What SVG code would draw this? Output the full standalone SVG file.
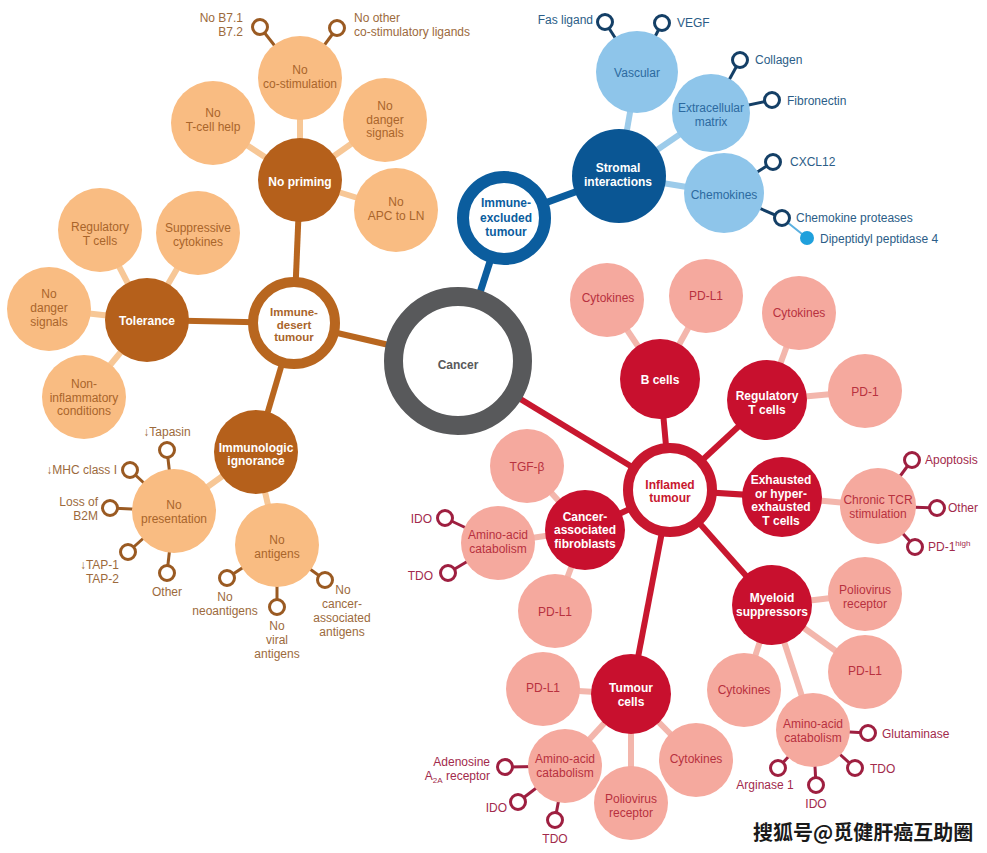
<svg xmlns="http://www.w3.org/2000/svg" width="987" height="853" viewBox="0 0 987 853">
<style>
text{font-family:"Liberation Sans",Arial,sans-serif;font-size:12px}
.m{text-anchor:middle}
.e{text-anchor:end}
.b{font-weight:bold}
.w{fill:#fff}
.ot{fill:#a9652b}
.bt{fill:#2c6aa0}
.rt{fill:#b8313f}
.os{fill:#9c6a3c}
.bs{fill:#2b5d87}
.rs{fill:#a22a4c}
.oD{fill:#b5601b}
.oL{fill:#f9bc82}
.bD{fill:#0a5694}
.bL{fill:#8ec5ea}
.rD{fill:#c8102e}
.rL{fill:#f5a99e}
.stub circle{fill:#fff;stroke-width:3}
.lo{stroke:#b8661f;stroke-width:6}
.llo{stroke:#f7c796;stroke-width:6}
.so{stroke:#9a5a22;stroke-width:3}
.lb{stroke:#0b5d9e;stroke-width:7}
.llb{stroke:#9ccbea;stroke-width:6}
.sb{stroke:#143f66;stroke-width:3}
.lr{stroke:#c8172f;stroke-width:6}
.llr{stroke:#f3b6ac;stroke-width:6}
.sr{stroke:#9e1f40;stroke-width:3}
.wm{font-family:"Noto Sans CJK SC","Noto Sans CJK JP",sans-serif;font-size:20px;font-weight:bold;fill:#1a1a1a}
.sm{font-size:11.5px}
</style>
<rect width="987" height="853" fill="#fff"/>
<g id="connectors" fill="none">
<line class="lo" x1="458" y1="361" x2="294" y2="323"/>
<line class="lb" x1="458" y1="361" x2="504" y2="218"/>
<line class="lr" x1="458" y1="361" x2="670" y2="490"/>
<line class="lo" x1="294" y1="323" x2="300" y2="180"/>
<line class="lo" x1="294" y1="323" x2="147" y2="320"/>
<line class="lo" x1="294" y1="323" x2="256" y2="452"/>
<line class="lb" x1="504" y1="218" x2="619" y2="176"/>
<line class="lr" x1="670" y1="490" x2="660" y2="379"/>
<line class="lr" x1="670" y1="490" x2="767" y2="400"/>
<line class="lr" x1="670" y1="490" x2="782" y2="497"/>
<line class="lr" x1="670" y1="490" x2="772" y2="605"/>
<line class="lr" x1="670" y1="490" x2="631" y2="694"/>
<line class="lr" x1="670" y1="490" x2="585" y2="530"/>
<line class="llo" x1="300" y1="180" x2="300" y2="78"/>
<line class="llo" x1="300" y1="180" x2="213" y2="123"/>
<line class="llo" x1="300" y1="180" x2="385" y2="120"/>
<line class="llo" x1="300" y1="180" x2="396" y2="210"/>
<line class="llo" x1="147" y1="320" x2="100" y2="230"/>
<line class="llo" x1="147" y1="320" x2="198" y2="233"/>
<line class="llo" x1="147" y1="320" x2="49" y2="309"/>
<line class="llo" x1="147" y1="320" x2="84" y2="397"/>
<line class="llo" x1="256" y1="452" x2="174" y2="511"/>
<line class="llo" x1="256" y1="452" x2="277" y2="545"/>
<line class="llb" x1="619" y1="176" x2="637" y2="72"/>
<line class="llb" x1="619" y1="176" x2="711" y2="113"/>
<line class="llb" x1="619" y1="176" x2="724" y2="193"/>
<line class="llr" x1="660" y1="379" x2="607" y2="300"/>
<line class="llr" x1="660" y1="379" x2="706" y2="296"/>
<line class="llr" x1="767" y1="400" x2="799" y2="313"/>
<line class="llr" x1="767" y1="400" x2="865" y2="391"/>
<line class="llr" x1="782" y1="497" x2="878" y2="506"/>
<line class="llr" x1="585" y1="530" x2="527" y2="466"/>
<line class="llr" x1="585" y1="530" x2="498" y2="543"/>
<line class="llr" x1="585" y1="530" x2="555" y2="611"/>
<line class="llr" x1="631" y1="694" x2="543" y2="689"/>
<line class="llr" x1="631" y1="694" x2="565" y2="766"/>
<line class="llr" x1="631" y1="694" x2="631" y2="803"/>
<line class="llr" x1="631" y1="694" x2="696" y2="760"/>
<line class="llr" x1="772" y1="605" x2="865" y2="594"/>
<line class="llr" x1="772" y1="605" x2="865" y2="672"/>
<line class="llr" x1="772" y1="605" x2="744" y2="690"/>
<line class="llr" x1="772" y1="605" x2="813" y2="730"/>
<line class="so" x1="300" y1="78" x2="260" y2="27"/>
<line class="so" x1="300" y1="78" x2="337" y2="28"/>
<line class="so" x1="174" y1="511" x2="167" y2="450"/>
<line class="so" x1="174" y1="511" x2="130" y2="470"/>
<line class="so" x1="174" y1="511" x2="110" y2="508"/>
<line class="so" x1="174" y1="511" x2="128" y2="552"/>
<line class="so" x1="174" y1="511" x2="167" y2="573"/>
<line class="so" x1="277" y1="545" x2="227" y2="578"/>
<line class="so" x1="277" y1="545" x2="277" y2="607"/>
<line class="so" x1="277" y1="545" x2="325" y2="580"/>
<line class="sb" x1="637" y1="72" x2="605" y2="22"/>
<line class="sb" x1="637" y1="72" x2="662" y2="23"/>
<line class="sb" x1="711" y1="113" x2="740" y2="60"/>
<line class="sb" x1="711" y1="113" x2="772" y2="100"/>
<line class="sb" x1="724" y1="193" x2="773" y2="162"/>
<line class="sb" x1="724" y1="193" x2="782" y2="218"/>
<line stroke="#5ab0e0" stroke-width="2" x1="782" y1="218" x2="807" y2="238"/>
<line class="sr" x1="878" y1="506" x2="912" y2="460"/>
<line class="sr" x1="878" y1="506" x2="937" y2="508"/>
<line class="sr" x1="878" y1="506" x2="915" y2="547"/>
<line class="sr" x1="498" y1="543" x2="445" y2="518"/>
<line class="sr" x1="498" y1="543" x2="448" y2="573"/>
<line class="sr" x1="565" y1="766" x2="505" y2="767"/>
<line class="sr" x1="565" y1="766" x2="518" y2="802"/>
<line class="sr" x1="565" y1="766" x2="555" y2="820"/>
<line class="sr" x1="813" y1="730" x2="868" y2="733"/>
<line class="sr" x1="813" y1="730" x2="855" y2="768"/>
<line class="sr" x1="813" y1="730" x2="816" y2="785"/>
<line class="sr" x1="813" y1="730" x2="778" y2="768"/>
</g>
<g class="stub">
<g stroke="#9a5a22">
<circle cx="260" cy="27" r="7.5"/><circle cx="337" cy="28" r="7.5"/>
<circle cx="167" cy="450" r="7.5"/><circle cx="130" cy="470" r="7.5"/><circle cx="110" cy="508" r="7.5"/><circle cx="128" cy="552" r="7.5"/><circle cx="167" cy="573" r="7.5"/>
<circle cx="227" cy="578" r="7.5"/><circle cx="277" cy="607" r="7.5"/><circle cx="325" cy="580" r="7.5"/>
</g>
<g stroke="#143f66">
<circle cx="605" cy="22" r="7.5"/><circle cx="662" cy="23" r="7.5"/><circle cx="740" cy="60" r="7.5"/><circle cx="772" cy="100" r="7.5"/><circle cx="773" cy="162" r="7.5"/><circle cx="782" cy="218" r="7.5"/>
</g>
<g stroke="#9e1f40">
<circle cx="912" cy="460" r="7.5"/><circle cx="937" cy="508" r="7.5"/><circle cx="915" cy="547" r="7.5"/>
<circle cx="445" cy="518" r="7.5"/><circle cx="448" cy="573" r="7.5"/>
<circle cx="505" cy="767" r="7.5"/><circle cx="518" cy="802" r="7.5"/><circle cx="555" cy="820" r="7.5"/>
<circle cx="868" cy="733" r="7.5"/><circle cx="855" cy="768" r="7.5"/><circle cx="816" cy="785" r="7.5"/><circle cx="778" cy="768" r="7.5"/>
</g>
</g>
<circle cx="807" cy="238" r="7" fill="#1fa0dc"/>

<g id="cancer"><circle cx="458" cy="361" r="64.5" fill="#fff" stroke="#58595b" stroke-width="19"/><text class="m b" x="458" y="369" fill="#58595b">Cancer</text></g>
<g id="immune-desert"><circle cx="294" cy="323" r="41" fill="#fff" stroke="#b8661f" stroke-width="10"/><text class="m b sm" x="294" y="316" fill="#a9652b"><tspan x="294">Immune-</tspan><tspan x="294" dy="12.5">desert</tspan><tspan x="294" dy="12.5">tumour</tspan></text></g>
<g id="immune-excluded"><circle cx="504" cy="218" r="41" fill="#fff" stroke="#0b5d9e" stroke-width="12"/><text class="m b" x="506" y="207" fill="#0b5d9e"><tspan x="506">Immune-</tspan><tspan x="506" dy="14.5">excluded</tspan><tspan x="506" dy="14.5">tumour</tspan></text></g>
<g id="inflamed"><circle cx="670" cy="490" r="42" fill="#fff" stroke="#c8172f" stroke-width="10"/><text class="m b" x="670" y="489" fill="#c8172f"><tspan x="670">Inflamed</tspan><tspan x="670" dy="13">tumour</tspan></text></g>

<g id="no-priming"><circle class="oD" cx="300" cy="180" r="42"/><text class="m b w" x="300" y="186">No priming</text></g>
<g id="tolerance"><circle class="oD" cx="147" cy="320" r="42"/><text class="m b w" x="147" y="325">Tolerance</text></g>
<g id="immunologic-ignorance"><circle class="oD" cx="256" cy="452" r="42"/><text class="m b w" x="256" y="452"><tspan x="256">Immunologic</tspan><tspan x="256" dy="13">ignorance</tspan></text></g>
<g id="no-costim"><circle class="oL" cx="300" cy="78" r="42"/><text class="m ot" x="300" y="74"><tspan x="300">No</tspan><tspan x="300" dy="14">co-stimulation</tspan></text></g>
<g id="no-tcell-help"><circle class="oL" cx="213" cy="123" r="42"/><text class="m ot" x="213" y="117"><tspan x="213">No</tspan><tspan x="213" dy="14">T-cell help</tspan></text></g>
<g id="no-danger-1"><circle class="oL" cx="385" cy="120" r="42"/><text class="m ot" x="385" y="110"><tspan x="385">No</tspan><tspan x="385" dy="13.5">danger</tspan><tspan x="385" dy="13.5">signals</tspan></text></g>
<g id="no-apc"><circle class="oL" cx="396" cy="210" r="42"/><text class="m ot" x="396" y="206"><tspan x="396">No</tspan><tspan x="396" dy="13.5">APC to LN</tspan></text></g>
<g id="treg-o"><circle class="oL" cx="100" cy="230" r="42"/><text class="m ot" x="100" y="231"><tspan x="100">Regulatory</tspan><tspan x="100" dy="14">T cells</tspan></text></g>
<g id="supp-cyt"><circle class="oL" cx="198" cy="233" r="42"/><text class="m ot" x="198" y="232"><tspan x="198">Suppressive</tspan><tspan x="198" dy="14">cytokines</tspan></text></g>
<g id="no-danger-2"><circle class="oL" cx="49" cy="309" r="42"/><text class="m ot" x="49" y="298"><tspan x="49">No</tspan><tspan x="49" dy="14">danger</tspan><tspan x="49" dy="14">signals</tspan></text></g>
<g id="non-infl"><circle class="oL" cx="84" cy="397" r="42"/><text class="m ot" x="84" y="388"><tspan x="84">Non-</tspan><tspan x="84" dy="13.5">inflammatory</tspan><tspan x="84" dy="13.5">conditions</tspan></text></g>
<g id="no-presentation"><circle class="oL" cx="174" cy="511" r="42"/><text class="m ot" x="174" y="509"><tspan x="174">No</tspan><tspan x="174" dy="13.5">presentation</tspan></text></g>
<g id="no-antigens"><circle class="oL" cx="277" cy="545" r="42"/><text class="m ot" x="277" y="544"><tspan x="277">No</tspan><tspan x="277" dy="13.5">antigens</tspan></text></g>

<g id="stromal"><circle class="bD" cx="619" cy="176" r="47"/><text class="m b w" x="618" y="172"><tspan x="618">Stromal</tspan><tspan x="618" dy="14">interactions</tspan></text></g>
<g id="vascular"><circle class="bL" cx="637" cy="72" r="41"/><text class="m bt" x="637" y="77">Vascular</text></g>
<g id="ecm"><circle class="bL" cx="711" cy="113" r="39"/><text class="m bt" x="711" y="112"><tspan x="711">Extracellular</tspan><tspan x="711" dy="13.5">matrix</tspan></text></g>
<g id="chemokines"><circle class="bL" cx="724" cy="193" r="40"/><text class="m bt" x="724" y="199">Chemokines</text></g>

<g id="b-cells"><circle class="rD" cx="660" cy="379" r="40"/><text class="m b w" x="660" y="384">B cells</text></g>
<g id="treg-r"><circle class="rD" cx="767" cy="400" r="40"/><text class="m b w" x="767" y="400"><tspan x="767">Regulatory</tspan><tspan x="767" dy="14">T cells</tspan></text></g>
<g id="exhausted"><circle class="rD" cx="782" cy="497" r="40"/><text class="m b w" x="781" y="484"><tspan x="781">Exhausted</tspan><tspan x="781" dy="13.7">or hyper-</tspan><tspan x="781" dy="13.7">exhausted</tspan><tspan x="781" dy="13.7">T cells</tspan></text></g>
<g id="myeloid"><circle class="rD" cx="772" cy="605" r="40"/><text class="m b w" x="772" y="602"><tspan x="772">Myeloid</tspan><tspan x="772" dy="14">suppressors</tspan></text></g>
<g id="tumour-cells"><circle class="rD" cx="631" cy="694" r="40"/><text class="m b w" x="631" y="692"><tspan x="631">Tumour</tspan><tspan x="631" dy="14">cells</tspan></text></g>
<g id="caf"><circle class="rD" cx="585" cy="530" r="40"/><text class="m b w" x="585" y="521"><tspan x="585">Cancer-</tspan><tspan x="585" dy="13.3">associated</tspan><tspan x="585" dy="13.3">fibroblasts</tspan></text></g>

<g id="b-cyt"><circle class="rL" cx="607" cy="300" r="37"/><text class="m rt" x="608" y="302">Cytokines</text></g>
<g id="b-pdl1"><circle class="rL" cx="706" cy="296" r="37"/><text class="m rt" x="706" y="300">PD-L1</text></g>
<g id="t-cyt"><circle class="rL" cx="799" cy="313" r="37"/><text class="m rt" x="799" y="317">Cytokines</text></g>
<g id="t-pd1"><circle class="rL" cx="865" cy="391" r="37"/><text class="m rt" x="865" y="396">PD-1</text></g>
<g id="chronic"><circle class="rL" cx="878" cy="506" r="38"/><text class="m rt" x="878" y="504"><tspan x="878">Chronic TCR</tspan><tspan x="878" dy="13.5">stimulation</tspan></text></g>
<g id="tgfb"><circle class="rL" cx="527" cy="466" r="37"/><text class="m rt" x="527" y="471">TGF-β</text></g>
<g id="caf-aac"><circle class="rL" cx="498" cy="543" r="37"/><text class="m rt" x="498" y="539"><tspan x="498">Amino-acid</tspan><tspan x="498" dy="13.5">catabolism</tspan></text></g>
<g id="caf-pdl1"><circle class="rL" cx="555" cy="611" r="37"/><text class="m rt" x="555" y="616">PD-L1</text></g>
<g id="tc-pdl1"><circle class="rL" cx="543" cy="689" r="37"/><text class="m rt" x="543" y="692">PD-L1</text></g>
<g id="tc-aac"><circle class="rL" cx="565" cy="766" r="37"/><text class="m rt" x="565" y="763"><tspan x="565">Amino-acid</tspan><tspan x="565" dy="13.5">catabolism</tspan></text></g>
<g id="tc-pvr"><circle class="rL" cx="631" cy="803" r="37"/><text class="m rt" x="631" y="803"><tspan x="631">Poliovirus</tspan><tspan x="631" dy="13.5">receptor</tspan></text></g>
<g id="tc-cyt"><circle class="rL" cx="696" cy="760" r="37"/><text class="m rt" x="696" y="763">Cytokines</text></g>
<g id="my-pvr"><circle class="rL" cx="865" cy="594" r="37"/><text class="m rt" x="865" y="594"><tspan x="865">Poliovirus</tspan><tspan x="865" dy="13.5">receptor</tspan></text></g>
<g id="my-pdl1"><circle class="rL" cx="865" cy="672" r="37"/><text class="m rt" x="865" y="675">PD-L1</text></g>
<g id="my-cyt"><circle class="rL" cx="744" cy="690" r="37"/><text class="m rt" x="744" y="694">Cytokines</text></g>
<g id="my-aac"><circle class="rL" cx="813" cy="730" r="37"/><text class="m rt" x="813" y="728"><tspan x="813">Amino-acid</tspan><tspan x="813" dy="13.5">catabolism</tspan></text></g>

<g id="stub-labels">
<text class="e os" x="243" y="22"><tspan x="243">No B7.1</tspan><tspan x="243" dy="14">B7.2</tspan></text>
<text class="os" x="354" y="22"><tspan x="354">No other</tspan><tspan x="354" dy="14">co-stimulatory ligands</tspan></text>
<text class="m os" x="167" y="436">↓Tapasin</text>
<text class="e os" x="117" y="474">↓MHC class I</text>
<text class="e os" x="98" y="506"><tspan x="98">Loss of</tspan><tspan x="98" dy="14">B2M</tspan></text>
<text class="e os" x="119" y="569"><tspan x="119">↓TAP-1</tspan><tspan x="119" dy="14">TAP-2</tspan></text>
<text class="m os" x="167" y="596">Other</text>
<text class="m os" x="225" y="601"><tspan x="225">No</tspan><tspan x="225" dy="14">neoantigens</tspan></text>
<text class="m os" x="277" y="630"><tspan x="277">No</tspan><tspan x="277" dy="14">viral</tspan><tspan x="277" dy="14">antigens</tspan></text>
<text class="m os" x="343" y="594"><tspan x="343">No</tspan><tspan x="342" dy="14">cancer-</tspan><tspan x="342" dy="14">associated</tspan><tspan x="342" dy="14">antigens</tspan></text>
<text class="e bs" x="593" y="24">Fas ligand</text>
<text class="bs" x="677" y="27">VEGF</text>
<text class="bs" x="755" y="64">Collagen</text>
<text class="bs" x="787" y="105">Fibronectin</text>
<text class="bs" x="790" y="166">CXCL12</text>
<text class="bs" x="796" y="222">Chemokine proteases</text>
<text class="bs" x="820" y="243">Dipeptidyl peptidase 4</text>
<text class="rs" x="925" y="464">Apoptosis</text>
<text class="rs" x="948" y="512">Other</text>
<text class="rs" x="928" y="551">PD-1<tspan font-size="8" dy="-5">high</tspan></text>
<text class="e rs" x="432" y="523">IDO</text>
<text class="e rs" x="433" y="580">TDO</text>
<text class="e rs" x="490" y="766">Adenosine</text>
<text class="e rs" x="490" y="780">A<tspan font-size="8" dy="3">2A</tspan><tspan dy="-3"> receptor</tspan></text>
<text class="e rs" x="507" y="812">IDO</text>
<text class="m rs" x="555" y="843">TDO</text>
<text class="rs" x="882" y="738">Glutaminase</text>
<text class="rs" x="870" y="773">TDO</text>
<text class="m rs" x="816" y="808">IDO</text>
<text class="m rs" x="765" y="789">Arginase 1</text>
</g>
<text class="wm" x="753" y="840">搜狐号@觅健肝癌互助圈</text>
</svg>
